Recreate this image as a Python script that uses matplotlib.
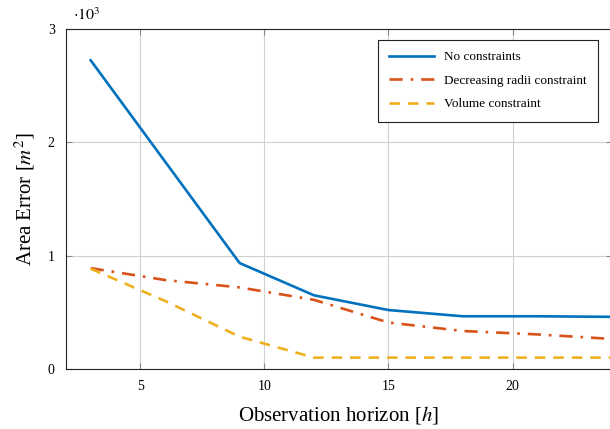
import matplotlib
matplotlib.use("Agg")
import matplotlib.pyplot as plt
from matplotlib.ticker import FuncFormatter

plt.rcParams['font.family'] = ['Liberation Serif', 'DejaVu Serif']
plt.rcParams['mathtext.fontset'] = 'stix'

horizon = [3, 6, 9, 12, 15, 18, 21, 24]
no_constraints = [2725, 1830, 935, 650, 520, 465, 465, 460]
decreasing_radii = [890, 785, 720, 610, 410, 335, 305, 265]
volume = [885, 600, 285, 100, 100, 100, 100, 100]

fig = plt.figure(figsize=(6.1, 4.29), dpi=100)
ax = fig.add_axes([0.108, 0.140, 0.895, 0.792])

ax.plot(horizon, no_constraints, color="#0072BD", lw=1.9, label="No constraints")
ax.plot(horizon, decreasing_radii, color="#D95319", lw=1.9, ls=(0, (5, 3, 1, 3)),
        label="Decreasing radii constraint")
ax.plot(horizon, volume, color="#EDB120", lw=1.9, ls=(0, (4, 3)), label="Volume constraint")

ax.set_xlim(2, 24)
ax.set_ylim(0, 3000)
ax.set_xticks([5, 10, 15, 20])
ax.set_yticks([0, 1000, 2000, 3000])
ax.yaxis.set_major_formatter(FuncFormatter(lambda v, p: f"{v/1000:g}"))
ax.grid(True, color="#d0d0d0", lw=0.8)
ax.tick_params(direction="in", top=True, right=True, length=4, color="#888888",
               labelsize=10, pad=8)
for s in ax.spines.values():
    s.set_color("#222222")

ax.set_xlabel("Observation horizon [$h$]", fontsize=15, labelpad=8)
ax.set_ylabel("Area Error [$m^2$]", fontsize=15, labelpad=8)
fig.text(0.120, 1 - 20/429, r"$\cdot 10^3$", fontsize=11.5, ha="left", va="baseline")

leg = ax.legend(loc="upper right", bbox_to_anchor=(598/610, 1 - 40/429),
                bbox_transform=fig.transFigure, borderaxespad=0, fontsize=9.5,
                fancybox=False, edgecolor="#222222", framealpha=1,
                handlelength=3.4, borderpad=0.85, labelspacing=0.85)
leg.get_frame().set_linewidth(0.8)

fig.savefig("out.png", dpi=100)
